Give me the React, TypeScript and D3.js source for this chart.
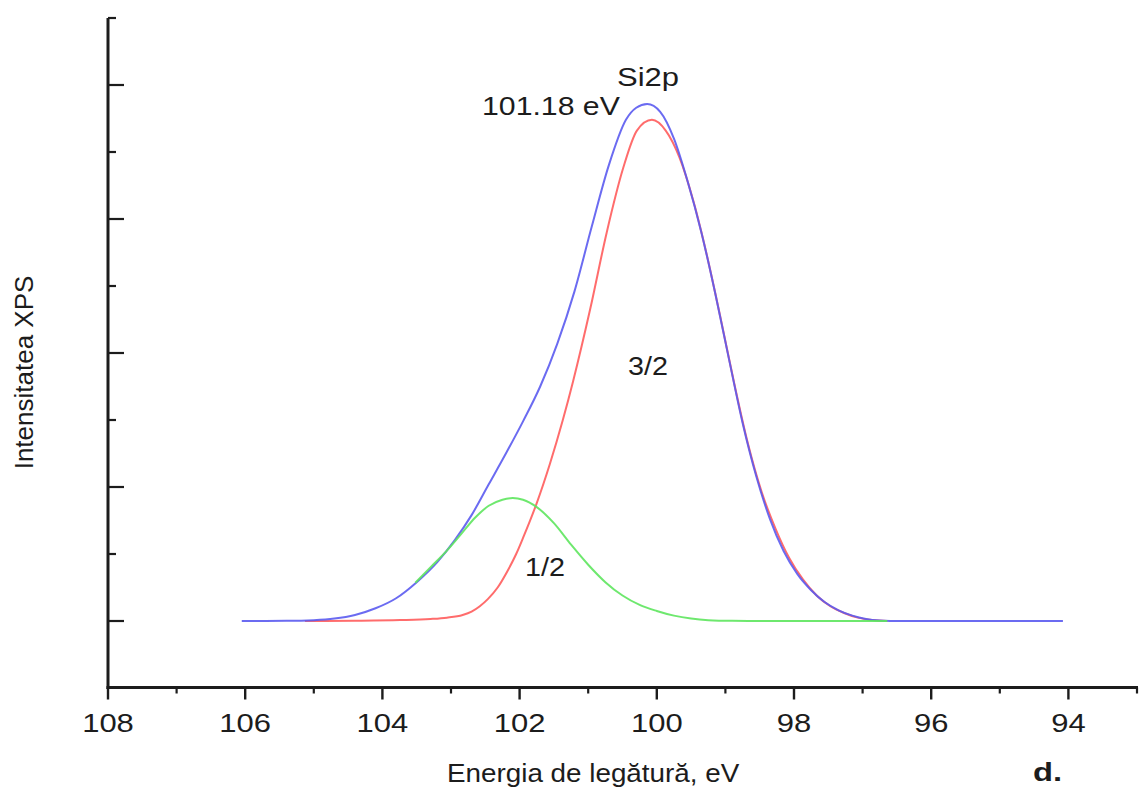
import React from "react";
import * as d3 from "d3";

// ---- Data ----
// Envelope (blue): binding energy (eV) and intensity (arb. units)
const envelopeEV = [106.05, 105.4, 105.0, 104.7, 104.4, 104.1, 103.8, 103.5, 103.2, 102.95, 102.7, 102.45, 102.2, 101.95, 101.7, 101.45, 101.2, 100.95, 100.7, 100.45, 100.3, 100.14, 99.95, 99.75, 99.55, 99.35, 99.15, 98.95, 98.75, 98.55, 98.35, 98.15, 97.95, 97.75, 97.55, 97.35, 97.15, 96.95, 96.75, 96.45, 94.08];
const envelopeI = [0, 0.001, 0.006, 0.018, 0.045, 0.095, 0.17, 0.29, 0.44, 0.6, 0.79, 1.02, 1.25, 1.49, 1.75, 2.07, 2.46, 2.94, 3.4, 3.74, 3.83, 3.858, 3.8, 3.6, 3.28, 2.9, 2.45, 1.96, 1.48, 1.08, 0.76, 0.52, 0.35, 0.23, 0.14, 0.08, 0.04, 0.015, 0.004, 0, 0];

// Si2p 3/2 component (red)
const peak32EV = [105.13, 104.4, 103.74, 103.3, 103.06, 102.83, 102.7, 102.58, 102.46, 102.32, 102.18, 102.05, 101.95, 101.75, 101.56, 101.37, 101.22, 100.97, 100.73, 100.49, 100.29, 100.07, 99.87, 99.67, 99.47, 99.27, 99.07, 98.87, 98.67, 98.47, 98.27, 98.07, 97.87, 97.67, 97.47, 97.27, 97.07, 96.87, 96.64];
const peak32I = [0, 0.002, 0.007, 0.015, 0.025, 0.045, 0.07, 0.11, 0.165, 0.25, 0.37, 0.5, 0.62, 0.88, 1.17, 1.5, 1.79, 2.33, 2.9, 3.38, 3.66, 3.74, 3.66, 3.46, 3.14, 2.73, 2.26, 1.77, 1.32, 0.96, 0.69, 0.47, 0.31, 0.19, 0.11, 0.06, 0.025, 0.008, 0];

// Si2p 1/2 component (green)
const peak12EV = [103.52, 103.3, 103.06, 102.85, 102.65, 102.45, 102.25, 102.1, 101.95, 101.75, 101.5, 101.25, 101.0, 100.75, 100.5, 100.25, 100.0, 99.75, 99.5, 99.25, 98.9, 98.5, 96.64];
const peak12I = [0.285, 0.4, 0.525, 0.65, 0.77, 0.86, 0.905, 0.918, 0.905, 0.85, 0.73, 0.57, 0.42, 0.29, 0.19, 0.12, 0.075, 0.04, 0.018, 0.006, 0.001, 0, 0];

const xMajorTicks = [108, 106, 104, 102, 100, 98, 96, 94];
const xMinorTicks = [107, 105, 103, 101, 99, 97, 95, 93];
const yMajorTicks = [0, 1, 2, 3, 4];
const yMinorTicks = [0.5, 1.5, 2.5, 3.5, 4.5];

const xTitle = "Energia de legătură, eV";
const yTitle = "Intensitatea XPS";
const peakLabel = "Si2p";
const energyLabel = "101.18 eV";
const label32 = "3/2";
const label12 = "1/2";
const panelLabel = "d.";

const FONT = "'Liberation Sans', Arial, Helvetica, sans-serif";
const INK = "#1c1c1c";

function SText(props: {
  x: number; y: number; sx?: number; size: number; anchor?: string; weight?: string | number; children: React.ReactNode;
}) {
  const { x, y, sx = 1, size, anchor = "start", weight = "normal", children } = props;
  return (
    <text
      transform={`translate(${x},${y}) scale(${sx},1)`}
      textAnchor={anchor as any}
      fontSize={size}
      fontFamily={FONT}
      fontWeight={weight as any}
      fill={INK}
    >
      {children}
    </text>
  );
}

export default function App() {
  const width = 1140;
  const height = 793;

  const x = d3.scaleLinear().domain([108, 93]).range([108, 1137]);
  const y = d3.scaleLinear().domain([-0.5, 4.5]).range([688, 18]);

  const line = d3
    .line<[number, number]>()
    .x((d) => x(d[0]))
    .y((d) => y(d[1]))
    .curve(d3.curveMonotoneX);

  const zip = (a: number[], b: number[]) => a.map((v, i) => [v, b[i]] as [number, number]);

  const axisY = y(-0.5) - 0.5;
  const axisX = x(108);

  return (
    <svg
      width={width}
      height={height}
      style={{ position: "absolute", left: 0, top: 0, background: "#fff" }}
    >
      <rect x={0} y={0} width={width} height={height} fill="#fff" />

      {/* curves */}
      <path d={line(zip(peak32EV, peak32I)) || ""} fill="none" stroke="#ff5c5c" strokeWidth={2} strokeOpacity={0.9} />
      <path d={line(zip(envelopeEV, envelopeI)) || ""} fill="none" stroke="#5b5bef" strokeWidth={2} strokeOpacity={0.9} />
      <path d={line(zip(peak12EV, peak12I)) || ""} fill="none" stroke="#5ee65e" strokeWidth={2} strokeOpacity={0.9} />

      {/* left axis */}
      <line x1={axisX} x2={axisX} y1={y(4.5)} y2={axisY + 1.5} stroke={INK} strokeWidth={3} />
      {yMajorTicks.map((t) => (
        <line key={"ym" + t} x1={axisX} x2={axisX + 16} y1={y(t)} y2={y(t)} stroke={INK} strokeWidth={2.2} />
      ))}
      {yMinorTicks.map((t) => (
        <line key={"yn" + t} x1={axisX} x2={axisX + 8} y1={y(t)} y2={y(t)} stroke={INK} strokeWidth={2.2} />
      ))}

      {/* bottom axis */}
      <line x1={axisX - 1.5} x2={x(93) + 1} y1={axisY} y2={axisY} stroke={INK} strokeWidth={3} />
      {xMajorTicks.map((t) => (
        <line key={"xm" + t} x1={x(t)} x2={x(t)} y1={axisY} y2={axisY + 12} stroke={INK} strokeWidth={2.4} />
      ))}
      {xMinorTicks.map((t) => (
        <line key={"xn" + t} x1={x(t)} x2={x(t)} y1={axisY} y2={axisY + 6} stroke={INK} strokeWidth={2.2} />
      ))}
      {xMajorTicks.map((t) => (
        <SText key={"xl" + t} x={x(t)} y={732} sx={1.24} size={25} anchor="middle">
          {String(t)}
        </SText>
      ))}

      {/* titles */}
      <SText x={447} y={782} sx={1.05} size={26.5}>
        {xTitle}
      </SText>
      <text
        transform="translate(33,372.5) rotate(-90)"
        textAnchor="middle"
        fontSize={26}
        fontFamily={FONT}
        fill={INK}
      >
        {yTitle}
      </text>
      <SText x={1033} y={781} sx={1.26} size={26} weight="bold">
        {panelLabel}
      </SText>

      {/* annotations */}
      <SText x={617} y={86} sx={1.24} size={25}>
        {peakLabel}
      </SText>
      <SText x={482} y={115} sx={1.21} size={25}>
        {energyLabel}
      </SText>
      <SText x={628} y={375} sx={1.15} size={25}>
        {label32}
      </SText>
      <SText x={525} y={576} sx={1.15} size={25}>
        {label12}
      </SText>
    </svg>
  );
}
